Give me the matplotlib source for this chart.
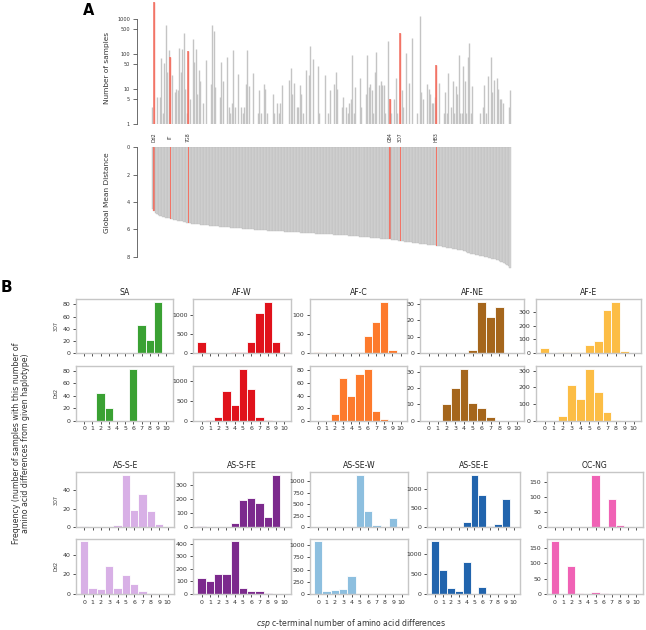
import numpy as np
import matplotlib
matplotlib.use("Agg")
import matplotlib.pyplot as plt
import matplotlib.transforms as mtrans
from matplotlib.ticker import MaxNLocator, FixedLocator, NullFormatter

# ---------------- Panel A data ----------------
n_samples = [
    3, 2900, 1, 6, 1, 6, 75, 2, 55, 650,
    30, 130, 80, 25, 1, 8, 10, 9, 150, 30,
    140, 380, 10, 2, 120, 5, 1, 260, 60, 140,
    7, 35, 17, 1, 4, 1, 65, 1, 1, 14,
    650, 450, 11, 1, 1, 6, 60, 17, 1, 1,
    80, 3, 2, 4, 130, 3, 1, 27, 1, 3,
    2, 3, 14, 130, 12, 1, 1, 28, 1, 1,
    2, 9, 2, 1, 14, 10, 2, 1, 1, 1,
    7, 2, 1, 4, 2, 4, 13, 1, 1, 1,
    1, 18, 40, 7, 15, 1, 3, 3, 13, 7,
    2, 1, 35, 1, 25, 170, 1, 70, 1, 1,
    45, 2, 1, 1, 1, 25, 1, 2, 9, 1,
    1, 14, 30, 10, 1, 1, 3, 6, 1, 3,
    2, 4, 5, 90, 2, 11, 1, 1, 21, 3,
    1, 1, 7, 90, 11, 14, 9, 2, 31, 115,
    1, 13, 17, 13, 13, 2, 1, 230, 5, 2,
    1, 5, 21, 2, 1, 380, 9, 3, 1, 108,
    1, 15, 1, 290, 1, 1, 2, 1, 1200, 8,
    5, 1, 1, 14, 10, 7, 4, 4, 6, 48,
    1, 15, 1, 1, 2, 8, 2, 28, 1, 3,
    17, 2, 12, 7, 90, 2, 2, 45, 17, 2,
    80, 200, 2, 12, 1, 1, 1, 1, 2, 1,
    3, 13, 2, 23, 1, 80, 8, 18, 1, 21,
    10, 5, 5, 4, 1, 1, 1, 3, 9,
]

mean_dist = [
    4.55, 4.68, 4.80, 4.88, 4.95, 5.00, 5.05, 5.08, 5.12, 5.15,
    5.18, 5.20, 5.24, 5.27, 5.30, 5.32, 5.34, 5.36, 5.38, 5.40,
    5.43, 5.45, 5.48, 5.51, 5.55, 5.57, 5.58, 5.60, 5.61, 5.62,
    5.64, 5.65, 5.66, 5.68, 5.69, 5.70, 5.71, 5.72, 5.73, 5.74,
    5.75, 5.76, 5.77, 5.78, 5.79, 5.80, 5.81, 5.82, 5.83, 5.84,
    5.85, 5.86, 5.87, 5.88, 5.89, 5.90, 5.91, 5.92, 5.93, 5.94,
    5.95, 5.96, 5.97, 5.98, 5.99, 6.00, 6.00, 6.01, 6.02, 6.03,
    6.04, 6.04, 6.05, 6.06, 6.07, 6.07, 6.08, 6.09, 6.10, 6.10,
    6.11, 6.12, 6.12, 6.13, 6.14, 6.15, 6.15, 6.16, 6.17, 6.17,
    6.18, 6.19, 6.19, 6.20, 6.21, 6.21, 6.22, 6.23, 6.23, 6.24,
    6.25, 6.25, 6.26, 6.27, 6.27, 6.28, 6.29, 6.29, 6.30, 6.31,
    6.31, 6.32, 6.33, 6.33, 6.34, 6.35, 6.35, 6.36, 6.37, 6.37,
    6.38, 6.39, 6.39, 6.40, 6.41, 6.41, 6.42, 6.43, 6.43, 6.44,
    6.45, 6.46, 6.47, 6.48, 6.49, 6.50, 6.51, 6.52, 6.53, 6.55,
    6.56, 6.57, 6.58, 6.59, 6.60, 6.61, 6.62, 6.63, 6.64, 6.65,
    6.66, 6.67, 6.68, 6.69, 6.70, 6.71, 6.72, 6.73, 6.74, 6.75,
    6.77, 6.79, 6.80, 6.82, 6.84, 6.86, 6.87, 6.89, 6.90, 6.92,
    6.93, 6.95, 6.96, 6.98, 6.99, 7.00, 7.02, 7.03, 7.05, 7.06,
    7.08, 7.09, 7.10, 7.12, 7.13, 7.14, 7.16, 7.17, 7.18, 7.20,
    7.22, 7.24, 7.26, 7.28, 7.30, 7.32, 7.34, 7.36, 7.38, 7.40,
    7.42, 7.44, 7.46, 7.48, 7.50, 7.52, 7.55, 7.58, 7.62, 7.66,
    7.75, 7.77, 7.80, 7.82, 7.84, 7.86, 7.88, 7.90, 7.92, 7.95,
    7.97, 8.00, 8.03, 8.06, 8.09, 8.12, 8.15, 8.18, 8.21, 8.24,
    8.28, 8.32, 8.36, 8.42, 8.48, 8.55, 8.62, 8.72, 8.85,
]

lab_names = ["Dd2", "IT", "7G8", "GB4", "3D7", "HB3"]
lab_index = [1, 12, 24, 158, 165, 189]

a_yticks = [1, 5, 10, 50, 100, 500, 1000]
d_yticks = [0, 2, 4, 6, 8]

# ---------------- Panel B data ----------------
diffs = list(range(11))

regions_top = ["SA", "AF-W", "AF-C", "AF-NE", "AF-E"]
regions_bot = ["AS-S-E", "AS-S-FE", "AS-SE-W", "AS-SE-E", "OC-NG"]

sa_3d7 = [0, 0, 0, 0, 0, 0, 0, 47, 21, 84, 0]
sa_dd2 = [0, 0, 45, 21, 0, 0, 84, 0, 0, 0, 0]
afw_3d7 = [300, 0, 10, 0, 22, 22, 300, 1050, 1350, 290, 40]
afw_dd2 = [0, 5, 100, 730, 400, 1300, 790, 100, 20, 0, 0]
afc_3d7 = [3, 0, 4, 0, 2, 3, 46, 81, 133, 9, 0]
afc_dd2 = [0, 0, 10, 68, 40, 74, 83, 15, 2, 0, 0]
afne_3d7 = [0, 0, 0, 0, 0, 2, 31, 22, 28, 0, 0]
afne_dd2 = [0, 0, 10, 20, 32, 11, 8, 2, 0, 0, 0]
afe_3d7 = [38, 0, 7, 7, 12, 60, 91, 314, 372, 19, 0]
afe_dd2 = [0, 0, 30, 214, 130, 312, 170, 52, 6, 0, 0]
asse_3d7 = [1, 0, 0, 0, 2, 56, 19, 36, 17, 4, 0]
asse_dd2 = [54, 6, 5, 29, 6, 19, 10, 3, 1, 0, 0]
assfe_3d7 = [9, 0, 0, 0, 30, 195, 205, 170, 75, 370, 0]
assfe_dd2 = [125, 103, 155, 158, 418, 49, 24, 24, 5, 2, 0]
assew_3d7 = [0, 0, 0, 0, 0, 1130, 348, 40, 0, 203, 0]
assew_dd2 = [1080, 55, 76, 110, 368, 0, 0, 0, 0, 0, 0]
assee_3d7 = [0, 0, 0, 0, 138, 1353, 845, 35, 86, 733, 0]
assee_dd2 = [1322, 593, 161, 85, 797, 0, 186, 0, 0, 0, 0]
ocng_3d7 = [0, 0, 0, 0, 0, 172, 2, 93, 9, 0, 0]
ocng_dd2 = [172, 0, 91, 2, 0, 7, 3, 0, 0, 0, 0]

counts_3d7 = {"SA": sa_3d7, "AF-W": afw_3d7, "AF-C": afc_3d7, "AF-NE": afne_3d7,
              "AF-E": afe_3d7, "AS-S-E": asse_3d7, "AS-S-FE": assfe_3d7,
              "AS-SE-W": assew_3d7, "AS-SE-E": assee_3d7, "OC-NG": ocng_3d7}
counts_dd2 = {"SA": sa_dd2, "AF-W": afw_dd2, "AF-C": afc_dd2, "AF-NE": afne_dd2,
              "AF-E": afe_dd2, "AS-S-E": asse_dd2, "AS-S-FE": assfe_dd2,
              "AS-SE-W": assew_dd2, "AS-SE-E": assee_dd2, "OC-NG": ocng_dd2}

colors = {"SA": "#3aa133", "AF-W": "#e0121b", "AF-C": "#fd7a2c", "AF-NE": "#a5661c",
          "AF-E": "#fcbd45", "AS-S-E": "#d8b0e6", "AS-S-FE": "#7c2a8d",
          "AS-SE-W": "#8dbfdf", "AS-SE-E": "#2164ad", "OC-NG": "#f062b5"}

# ---------------- Figure ----------------
W, H = 646, 630
fig = plt.figure(figsize=(W / 100, H / 100), dpi=100)


def ax_px(l, t, r, b):
    return fig.add_axes([l / W, 1 - b / H, (r - l) / W, (b - t) / H])


GREY = "#c4c4c4"
RED = "#f27466"
hl = set(lab_index)
idx = np.arange(len(n_samples))
cols_a = [RED if i in hl else GREY for i in idx]

# --- Panel A top ---
axA = ax_px(137, 0, 512, 124)
axA.set_yscale("log")
axA.vlines(idx, 1, n_samples, colors=cols_a, linewidth=1.0)
for i in lab_index:
    axA.vlines(i, 1, n_samples[i], colors=RED, linewidth=1.1, zorder=3)
axA.set_ylim(1, 3400)
axA.set_xlim(-10.2, 239.3)
for s in ["top", "right", "bottom"]:
    axA.spines[s].set_visible(False)
axA.spines["left"].set_bounds(1, 1000)
axA.spines["left"].set_color("#555555")
axA.spines["left"].set_linewidth(0.6)
axA.yaxis.set_major_locator(FixedLocator(a_yticks))
axA.yaxis.set_minor_locator(FixedLocator([]))
axA.set_yticklabels([str(v) for v in a_yticks])
axA.tick_params(axis="y", labelsize=3.6, length=3, width=0.6, color="#555555",
                labelcolor="#333333", pad=2)
axA.set_xticks([])

# --- Panel A bottom ---
axD = ax_px(137, 147.3, 512, 270)
bar_cols = [RED if i in hl else "#d3d3d3" for i in idx]
axD.bar(idx, mean_dist, width=1.0, color=bar_cols, edgecolor="#b8b8b8", linewidth=0.25)
for i in lab_index:
    axD.bar(i, mean_dist[i], width=0.7, color=RED, linewidth=0, zorder=3)
axD.set_ylim(8.98, 0)
axD.set_xlim(-10.2, 239.3)
for s in ["top", "right", "bottom"]:
    axD.spines[s].set_visible(False)
axD.spines["left"].set_bounds(0, 8)
axD.spines["left"].set_color("#555555")
axD.spines["left"].set_linewidth(0.6)
axD.set_yticks(d_yticks)
axD.tick_params(axis="y", labelsize=3.6, length=3, width=0.6, color="#555555",
                labelcolor="#333333", pad=2)
axD.set_xticks([])

trans = mtrans.blended_transform_factory(axA.transData, fig.transFigure)
for name, i in zip(lab_names, lab_index):
    axA.text(i, 1 - 137 / H, name, rotation=90, ha="center", va="center",
             fontsize=3.4, color="#333333", transform=trans, clip_on=False)

fig.text(106.7 / W, 1 - 68.5 / H, "Number of samples", rotation=90, ha="center",
         va="center", fontsize=5.3, color="#333333")
fig.text(106.7 / W, 1 - 192.5 / H, "Global Mean Distance", rotation=90, ha="center",
         va="center", fontsize=5.3, color="#333333")
fig.text(83 / W, 1 - 15 / H, "A", fontsize=10.5, fontweight="bold", va="baseline")
fig.text(0.5 / W, 1 - 291.5 / H, "B", fontsize=11, fontweight="bold", va="baseline")

# --- Panel B ---
cols_top = [(76, 172.7), (193.3, 291), (310, 407.3), (420, 524), (536, 640.7)]
cols_bot = [(76, 174.3), (193.3, 291), (310, 408.3), (427.3, 520), (546.7, 642.7)]
rows_top = [(299.3, 353.3), (366, 420.7)]
rows_bot = [(472.3, 527.3), (538.7, 594)]


def style(ax, show_xlabels):
    for s in ax.spines.values():
        s.set_color("#c6c6c6")
        s.set_linewidth(1.0)
    ax.set_xlim(-1.0, 10.8)
    ax.set_xticks(diffs)
    ax.yaxis.set_major_locator(MaxNLocator(nbins=5, steps=[1, 2, 2.5, 5, 10]))
    ax.tick_params(length=2.5, width=0.6, color="#333333", labelsize=4.5,
                   labelcolor="#333333", pad=1.5)
    if not show_xlabels:
        ax.xaxis.set_major_formatter(NullFormatter())


for regions, cols, rows in [(regions_top, cols_top, rows_top),
                            (regions_bot, cols_bot, rows_bot)]:
    for j, (reg, (l, r)) in enumerate(zip(regions, cols)):
        for k, (data, rowname) in enumerate([(counts_3d7[reg], "3D7"),
                                             (counts_dd2[reg], "Dd2")]):
            t, b = rows[k]
            ax = ax_px(l, t, r, b)
            ax.bar(diffs, data, width=1.0, color=colors[reg], edgecolor="white",
                   linewidth=0.6)
            style(ax, show_xlabels=(k == 1))
            if k == 0:
                ax.set_title(reg, fontsize=5.6, pad=3, color="#222222")
            if j == 0:
                ax.set_ylabel(rowname, fontsize=3.5, labelpad=3, color="#333333")

fig.text(21 / W, 1 - 443 / H,
         "Frequency (number of samples with this number of\n"
         "amino acid differences from given haplotype)",
         rotation=90, ha="center", va="center", fontsize=5.7, linespacing=1.05,
         multialignment="center", color="#333333")
fig.text(351 / W, 1 - 624 / H,
         r"$\it{csp}$ c-terminal number of amino acid differences",
         ha="center", va="center", fontsize=5.6, color="#333333")

fig.savefig("out.png", dpi=100)
